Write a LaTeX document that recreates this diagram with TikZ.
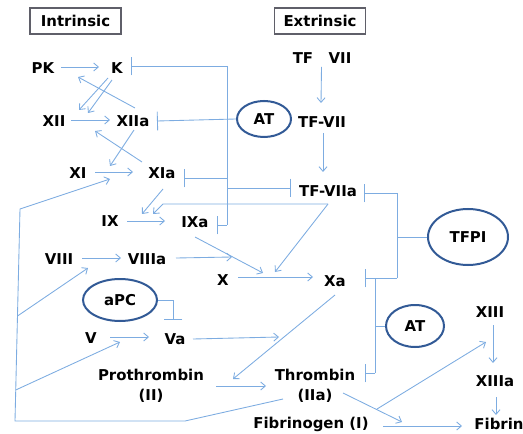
\documentclass[tikz,border=0pt]{standalone}
\usepackage{fontspec}
\setmainfont{DejaVu Sans}
\usetikzlibrary{arrows.meta,calc,shapes.geometric}
\definecolor{lineblue}{RGB}{125,172,225}
\definecolor{ellblue}{RGB}{50,90,150}
\definecolor{boxgray}{RGB}{95,95,105}
\begin{document}
\begin{tikzpicture}[x=0.75pt,y=-0.75pt,
 lbl/.style={font=\fontsize{11.2pt}{15pt}\selectfont\bfseries, inner sep=0pt, align=center},
 hdr/.style={lbl, draw=boxgray, line width=0.8pt, minimum width=68.25pt, minimum height=19.5pt},
 oval/.style={lbl, ellipse, draw=ellblue, line width=1.5pt},
 conn/.style={draw=lineblue, line width=0.65pt},
 arr/.style={conn, -{Straight Barb[length=3.5pt,width=6pt]}},
 inh/.style={conn, -{Bar[width=14pt]}}]
\useasboundingbox (0,0) rectangle (523,434);

% headers
\node[hdr] (intr) at (75.5,21) {Intrinsic};
\node[hdr] (extr) at (320,21) {Extrinsic};

% factors
\node[lbl] (PK) at (43,68) {PK};
\node[lbl] (K) at (117,68) {K};
\node[lbl] (XII) at (54,121) {XII};
\node[lbl] (XIIa) at (133,121) {XIIa};
\node[lbl] (XI) at (78,173) {XI};
\node[lbl] (XIa) at (162,173) {XIa};
\node[lbl] (IX) at (110,221) {IX};
\node[lbl] (IXa) at (195,222) {IXa};
\node[lbl] (VIII) at (59,259) {VIII};
\node[lbl] (VIIIa) at (147,259) {VIIIa};
\node[lbl] (X) at (223,280) {X};
\node[lbl] (Xa) at (335,281) {Xa};
\node[lbl] (V) at (91,338) {V};
\node[lbl] (Va) at (175,339) {Va};
\node[lbl] (Pro) at (151,386) {Prothrombin\\(II)};
\node[lbl] (Thr) at (315,386) {Thrombin\\(IIa)};
\node[lbl] (Fgn) at (311,424) {Fibrinogen (I)};
\node[lbl] (Fib) at (499,424) {Fibrin};
\node[lbl] (XIII) at (490,312) {XIII};
\node[lbl] (XIIIa) at (495,381) {XIIIa};
\node[lbl] (TF) at (303,58) {TF};
\node[lbl] (VII) at (340,58) {VII};
\node[lbl] (TFVII) at (322,122) {TF-VII};
\node[lbl] (TFVIIa) at (328,191) {TF-VIIa};

% inhibitors
\node[oval, minimum width=40.5pt, minimum height=27pt] (AT1) at (264,119) {AT};
\node[oval, minimum width=60pt, minimum height=42pt] (TFPI) at (468,237) {TFPI};
\node[oval, minimum width=43.5pt, minimum height=31.5pt] (AT2) at (415,326) {AT};
\node[oval, minimum width=55.5pt, minimum height=31.5pt] (aPC) at (120,300) {aPC};

% intrinsic arrows
\draw[arr] ($(PK)+(18,-1)$) -- ($(K)+(-18,-1)$);
\draw[arr] ($(XIIa)+(2,-13)$) -- ($(PK)+(35,9)$);
\draw[arr] ($(K)+(-9,10)$) -- ($(XII)+(25,-11)$);
\draw[arr] ($(K)+(-5,12)$) -- ($(XII)+(34,-8)$);
\draw[arr] ($(XII)+(17,-1)$) -- ($(XIIa)+(-23,-1)$);
\draw[arr] ($(XIIa)+(1,9)$) -- ($(XI)+(32,-7)$);
\draw[arr] ($(XIa)+(-20,-11)$) -- ($(XII)+(41,10)$);
\draw[arr] ($(XI)+(17,-1)$) -- ($(XIa)+(-29,-1)$);
\draw[arr] ($(XIa)+(1,16)$) -- ($(IX)+(32,-7)$);
\draw[arr] ($(IX)+(17,0)$) -- ($(IXa)+(-30,-1)$);
\coordinate (tfb) at (163,204);
\draw[arr] ($(TFVIIa)+(0,13)$) -- (tfb) -- ($(IX)+(43,-7)$);
\draw[arr] ($(TFVIIa)+(0,13)$) -- ($(X)+(52,-8)$);
\draw[arr] ($(IXa)+(0,15)$) -- ($(X)+(40,-7)$);
\draw[arr] ($(VIII)+(23,-1)$) -- ($(VIIIa)+(-26,-1)$);
\draw[arr] ($(VIIIa)+(29,-1)$) -- ($(X)+(9,-23)$);
\draw[arr] ($(X)+(15,-3)$) -- ($(Xa)+(-22,-4)$);
\draw[arr] ($(Xa)+(0,14)$) -- ($(Pro)+(82,-7)$);
\draw[arr] ($(V)+(19,-1)$) -- ($(Va)+(-26,-2)$);
\draw[arr] ($(Va)+(18,0)$) -- ($(Xa)+(-56,56)$);
\draw[arr] ($(Pro)+(65,0)$) -- ($(Thr)+(-49,0)$);

% extrinsic arrows
\draw[arr] ($(TF)!0.5!(VII)+(0,9)$) -- ($(TFVII)+(-1,-19)$);
\draw[arr] ($(TFVII)+(1,11)$) -- ($(TFVIIa)+(-5,-19)$);

% thrombin feedback loop
\coordinate (lpA) at (185,421);
\coordinate (lpB) at (15,421);
\coordinate (lpC) at (20,209);
\coordinate (lb1) at (17.5,316);
\coordinate (lb2) at (15.7,390);
\draw[arr] ($(Thr)+(-32,13)$) -- (lpA) -- (lpB) -- (lpC) -- ($(XI)+(32,6)$);
\draw[arr] (lb1) -- ($(VIII)+(29,9)$);
\draw[arr] (lb2) -- ($(V)+(29,4)$);

% fibrin formation
\draw[arr] ($(Thr)+(28,7)$) -- ($(Fgn)+(91,-2)$);
\draw[arr] ($(Fgn)+(72,2)$) -- ($(Fib)+(-37,2)$);
\coordinate (th1) at (377,409);
\draw[arr] (th1) -- ($(XIII)+(-4,30)$);
\draw[arr] ($(XIII)+(3,13)$) -- ($(XIIIa)+(-2,-18)$);
\draw[arr] ($(XIIIa)+(1,16)$) -- ($(Fib)+(-3,-9)$);

% AT (upper) bracket
\coordinate (m1) at (227,66);
\coordinate (m2) at (227,225);
\coordinate (m3) at (227,178);
\coordinate (m4) at (227,188);
\draw[conn] (m1) -- (m2);
\draw[inh] (m1) -- ($(K)+(14,-2)$);
\draw[inh] (AT1.west) -- ($(XIIa)+(24,0)$);
\draw[inh] (m3) -- ($(XIa)+(22,5)$);
\draw[inh] (m2) -- ($(IXa)+(22,3)$);
\draw[inh] (m4) -- ($(TFVIIa)+(-37,-3)$);

% TFPI bracket
\coordinate (t1) at (397,193);
\coordinate (t2) at (397,278);
\coordinate (t3) at (397,237);
\draw[conn] (t1) -- (t2);
\draw[inh] (t1) -- ($(TFVIIa)+(36,2)$);
\draw[inh] (t2) -- ($(Xa)+(30,-3)$);
\draw[conn] (TFPI.west) -- (t3);

% AT (lower) bracket
\coordinate (c1) at (375,278);
\coordinate (c2) at (375,373);
\coordinate (c3) at (375,326);
\draw[conn] (c1) -- (c2);
\draw[inh] (c2) -- ($(Thr)+(50,-13)$);
\draw[conn] (AT2.west) -- (c3);

% aPC
\coordinate (apc1) at (173,300);
\draw[inh] (aPC.east) -- (apc1) -- ($(Va)+(-2,-19)$);
\end{tikzpicture}
\end{document}
